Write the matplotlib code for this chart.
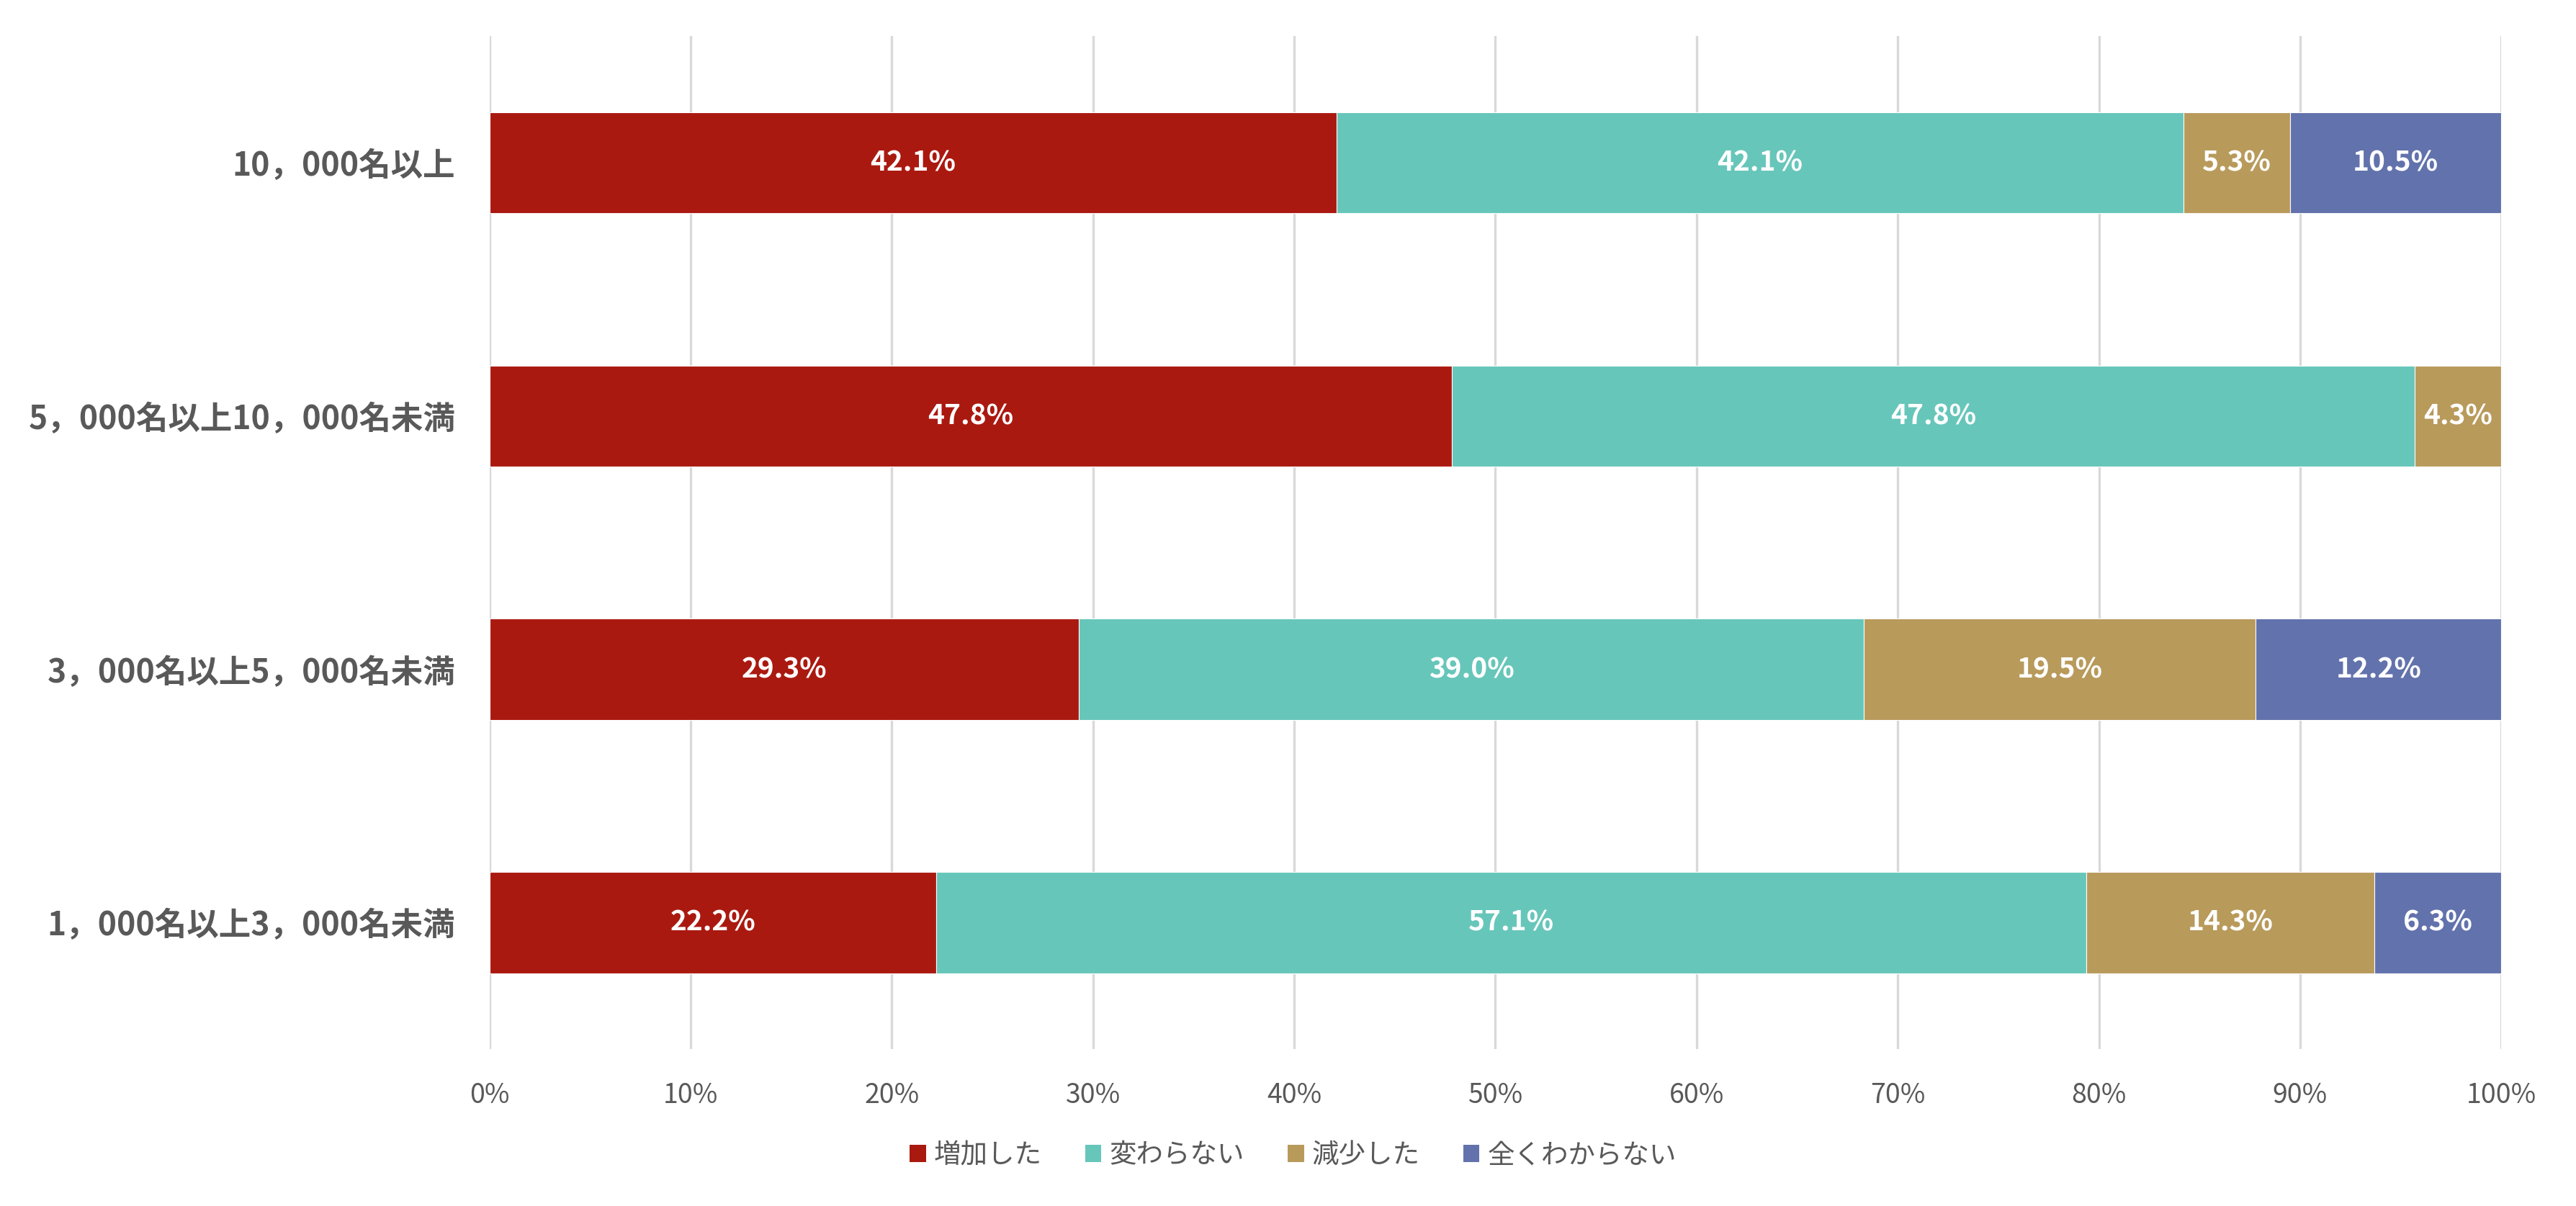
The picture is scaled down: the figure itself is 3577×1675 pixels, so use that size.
import matplotlib
matplotlib.use("Agg")
import matplotlib.pyplot as plt
from matplotlib.patches import Patch

plt.rcParams['font.family'] = ['Noto Sans CJK JP', 'DejaVu Sans']

# categories, top to bottom
categories = ["10，000名以上", "5，000名以上10，000名未満",
              "3，000名以上5，000名未満", "1，000名以上3，000名未満"]
series_names = ["増加した", "変わらない", "減少した", "全くわからない"]
increased = [42.1, 47.8, 29.3, 22.2]
unchanged = [42.1, 47.8, 39.0, 57.1]
decreased = [5.3, 4.3, 19.5, 14.3]
unknown = [10.5, 0.0, 12.2, 6.3]
xticks = [0, 10, 20, 30, 40, 50, 60, 70, 80, 90, 100]

colors = ["#AA1910", "#67C6BA", "#B89A5B", "#6272AC"]
text_gray = "#595959"

fig = plt.figure(figsize=(3577 / 200, 1675 / 200), dpi=200)
ax = fig.add_axes([0.190, 0.130, 0.781, 0.840])

all_series = [increased, unchanged, decreased, unknown]
# 100% stacked: each row is scaled to fill the axis, labels keep the raw values
totals = [sum(s[i] for s in all_series) for i in range(len(categories))]

ypos = list(range(len(categories)))
left = [0.0] * len(categories)
for vals, name, col in zip(all_series, series_names, colors):
    widths = [v / t * 100 for v, t in zip(vals, totals)]
    ax.barh(ypos, widths, left=left, height=0.4, color=col, edgecolor="white",
            linewidth=0.4, label=name, zorder=3)
    for i, v in enumerate(vals):
        if v > 0:
            ax.text(left[i] + widths[i] / 2, ypos[i], f"{v:.1f}%", ha="center",
                    va="center", color="white", fontsize=14, fontweight="bold",
                    zorder=4)
    left = [l + w for l, w in zip(left, widths)]

ax.set_xlim(0, 100)
ax.set_ylim(len(categories) - 0.5, -0.5)
ax.set_yticks(ypos)
ax.set_yticklabels(categories, fontsize=16, fontweight="bold", color=text_gray)
ax.set_xticks(xticks)
ax.set_xticklabels([f"{t}%" for t in xticks], fontsize=13.5, color=text_gray)
ax.tick_params(axis="both", length=0)
ax.tick_params(axis="y", pad=17)
ax.tick_params(axis="x", pad=16)
for s in ax.spines.values():
    s.set_visible(False)
ax.grid(axis="x", color="#D9D9D9", linewidth=1.2, zorder=0)
ax.set_axisbelow(True)

handles = [Patch(facecolor=c, edgecolor="none") for c in colors]
fig.legend(handles, series_names, loc="center", bbox_to_anchor=(0.502, 0.042),
           ncol=4, frameon=False, fontsize=13.5, handlelength=0.6, handleheight=0.6,
           handletextpad=0.3, columnspacing=1.6, labelcolor=text_gray)

fig.savefig("out.png", dpi=200)
